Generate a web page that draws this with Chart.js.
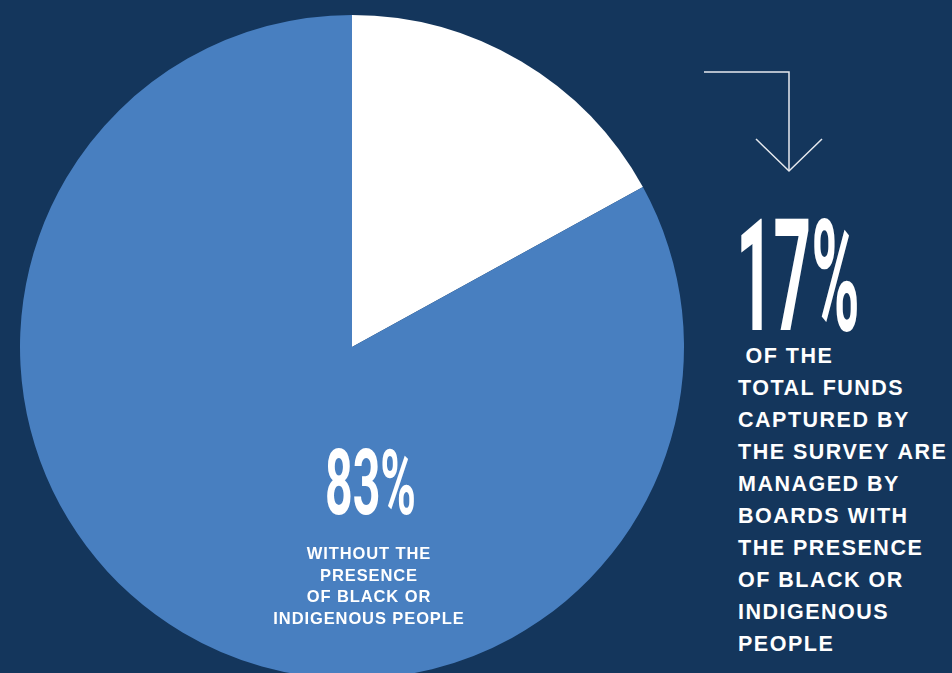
<!DOCTYPE html>
<html lang="en">
<head>
    <meta charset="UTF-8">
    <title>Board diversity - share of funds</title>
    <script src="https://cdn.jsdelivr.net/npm/chart.js"></script>
    <style>
        html, body { margin: 0; padding: 0; width: 952px; height: 673px; overflow: hidden; background: #14365c; }
        #wrap { position: absolute; left: 20px; top: 15px; width: 664px; height: 664px; }
        .big { position: absolute; color: #fff; font-family: Roboto, sans-serif; font-weight: 700; line-height: 1; white-space: nowrap; transform-origin: 0 0; }
        .txt { position: absolute; color: #fff; font-family: "Liberation Sans", Arial, sans-serif; font-weight: 700; white-space: nowrap; }
        #pctWith { left: 736px; top: 199px; font-size: 156px; transform: scaleX(0.42); }
        #pctWithout { left: 325px; top: 438px; font-size: 91px; transform: scaleX(0.53); }
        #descWith { left: 738px; top: 340px; font-size: 21.5px; line-height: 32px; letter-spacing: 1.5px; }
        #descWithout { left: 239px; top: 543px; width: 260px; text-align: center; font-size: 16.5px; line-height: 21.5px; letter-spacing: 0.9px; }
        svg { position: absolute; left: 0; top: 0; }
    </style>
</head>
<body>
    <div id="wrap"><canvas id="pie"></canvas></div>
    <div id="pctWith" class="big"></div>
    <div id="pctWithout" class="big"></div>
    <div id="descWith" class="txt"></div>
    <div id="descWithout" class="txt"></div>
    <svg width="952" height="673">
        <polyline points="704,72 789,72 789,171" fill="none" stroke="#e6e9ee" stroke-width="1.5"/>
        <polyline points="756,139 789,171 822,139" fill="none" stroke="#e6e9ee" stroke-width="1.5"/>
    </svg>

    <script>
        // share of total funds, by board composition
        const categories = ['With Black or Indigenous people', 'Without Black or Indigenous people'];
        const shares = [17, 83];
        const sliceColors = ['#ffffff', '#487fc0'];
        const descWith = [' OF THE', 'TOTAL FUNDS', 'CAPTURED BY', 'THE SURVEY ARE', 'MANAGED BY', 'BOARDS WITH', 'THE PRESENCE', 'OF BLACK OR', 'INDIGENOUS', 'PEOPLE'];
        const descWithout = ['WITHOUT THE', 'PRESENCE', 'OF BLACK OR', 'INDIGENOUS PEOPLE'];

        document.getElementById('pctWith').textContent = shares[0] + '%';
        document.getElementById('pctWithout').textContent = shares[1] + '%';
        document.getElementById('descWith').innerHTML = descWith.map(s => s.replace(/ /g, '&nbsp;')).join('<br>');
        document.getElementById('descWithout').innerHTML = descWithout.join('<br>');

        const canvas = document.getElementById('pie');
        canvas.width = 664;
        canvas.height = 664;

        new Chart(canvas.getContext('2d'), {
            type: 'pie',
            data: {
                labels: categories,
                datasets: [{ data: shares, backgroundColor: sliceColors, borderWidth: 0 }]
            },
            options: {
                responsive: false,
                animation: false,
                layout: { padding: 0 },
                plugins: { legend: { display: false }, tooltip: { enabled: false } }
            }
        });
    </script>
</body>
</html>
